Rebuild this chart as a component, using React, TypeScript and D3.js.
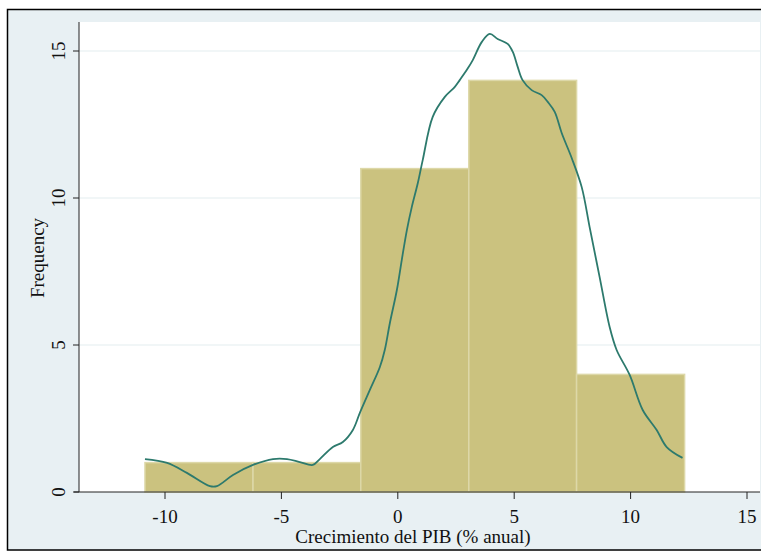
import React, { useEffect, useRef } from 'react';
import * as d3 from 'd3';

// histogram bins (edges) and counts
const binEdges = [-10.86, -6.22, -1.59, 3.05, 7.68, 12.32];
const binCounts = [1, 1, 11, 14, 4];

// kernel density overlay, scaled to frequency
const densityX = [-10.86, -9.91, -9.06, -8.07, -7.77, -7.08, -6.22, -5.36, -4.76, -4.21, -3.65, -3.35, -2.79, -2.36, -1.93, -1.63, -1.2, -0.77, -0.56, -0.34, -0.04, 0.17, 0.39, 0.6, 0.86, 1.07, 1.5, 2.02, 2.45, 2.66, 2.96, 3.22, 3.61, 3.95, 4.29, 4.72, 4.94, 5.15, 5.36, 5.75, 6.18, 6.44, 6.74, 7.04, 7.47, 7.9, 8.24, 8.67, 9.1, 9.4, 9.96, 10.52, 11.12, 11.55, 12.23];
const densityY = [1.12, 0.99, 0.65, 0.2, 0.2, 0.58, 0.92, 1.12, 1.12, 1.02, 0.92, 1.12, 1.53, 1.7, 2.11, 2.69, 3.47, 4.25, 4.83, 5.75, 6.87, 7.89, 8.91, 9.69, 10.51, 11.29, 12.76, 13.44, 13.78, 14.01, 14.35, 14.69, 15.31, 15.58, 15.41, 15.24, 14.97, 14.46, 14.01, 13.67, 13.5, 13.27, 12.93, 12.21, 11.36, 10.37, 9.01, 7.31, 5.61, 4.83, 3.98, 2.79, 2.11, 1.53, 1.16];

const xTicks = [-10, -5, 0, 5, 10, 15];
const yTicks = [0, 5, 10, 15];
const xTitle = 'Crecimiento del PIB (% anual)';
const yTitle = 'Frequency';

const width = 761;
const height = 552;
const plot = { left: 79, right: 760, top: 22, bottom: 492 };
const font = "'Liberation Serif', 'Times New Roman', serif";

const App = () => {
  const svgRef = useRef<SVGSVGElement>(null);

  useEffect(() => {
    document.body.style.margin = '0';
    const svg = d3.select(svgRef.current);
    svg.selectAll('*').remove();

    // outer frame
    svg.append('rect')
      .attr('x', 7.5).attr('y', 9.5)
      .attr('width', 760).attr('height', 540.5)
      .attr('fill', '#e8f0f3')
      .attr('stroke', '#000')
      .attr('stroke-width', 1.5);

    // plot region
    svg.append('rect')
      .attr('x', plot.left).attr('y', plot.top)
      .attr('width', plot.right - plot.left).attr('height', plot.bottom - plot.top)
      .attr('fill', '#fff');

    const xScale = d3.scaleLinear().domain([-10, 15]).range([165, 747]);
    const yScale = d3.scaleLinear().domain([0, 15]).range([plot.bottom, 51]);

    // grid lines
    svg.append('g').selectAll('line')
      .data(yTicks.filter(t => t > 0))
      .join('line')
      .attr('x1', plot.left).attr('x2', plot.right)
      .attr('y1', d => yScale(d)).attr('y2', d => yScale(d))
      .attr('stroke', '#e4edf0')
      .attr('stroke-width', 1.2);

    // bars
    svg.append('g').selectAll('rect')
      .data(binCounts)
      .join('rect')
      .attr('x', (d, i) => xScale(binEdges[i]))
      .attr('y', d => yScale(d))
      .attr('width', (d, i) => xScale(binEdges[i + 1]) - xScale(binEdges[i]))
      .attr('height', d => yScale(0) - yScale(d))
      .attr('fill', '#cbc27f')
      .attr('stroke', '#ddd8a8')
      .attr('stroke-width', 1.5);

    // density line
    const pts = densityX.map((x, i) => [x, densityY[i]] as [number, number]);
    const line = d3.line<[number, number]>()
      .x(d => xScale(d[0]))
      .y(d => yScale(d[1]))
      .curve(d3.curveCatmullRom.alpha(0.5));
    svg.append('path')
      .attr('d', line(pts))
      .attr('fill', 'none')
      .attr('stroke', '#2d7a6d')
      .attr('stroke-width', 1.8);

    // axes
    const axisColor = '#222';
    svg.append('line')
      .attr('x1', plot.left).attr('x2', plot.left)
      .attr('y1', plot.top).attr('y2', plot.bottom)
      .attr('stroke', axisColor).attr('stroke-width', 1);
    svg.append('line')
      .attr('x1', plot.left - 5).attr('x2', plot.right)
      .attr('y1', plot.bottom).attr('y2', plot.bottom)
      .attr('stroke', axisColor).attr('stroke-width', 1);

    const textStyle = (sel: any) => sel
      .attr('font-family', font)
      .attr('font-size', 19)
      .attr('fill', '#111');

    // y ticks
    const yt = svg.append('g');
    yt.selectAll('line')
      .data(yTicks)
      .join('line')
      .attr('x1', plot.left - 6).attr('x2', plot.left)
      .attr('y1', d => yScale(d)).attr('y2', d => yScale(d))
      .attr('stroke', axisColor);
    yt.selectAll('text')
      .data(yTicks)
      .join('text')
      .attr('transform', d => `translate(65,${yScale(d)}) rotate(-90)`)
      .attr('text-anchor', 'middle')
      .call(textStyle)
      .text(d => d);

    // x ticks
    const xt = svg.append('g');
    xt.selectAll('line')
      .data(xTicks)
      .join('line')
      .attr('x1', d => xScale(d)).attr('x2', d => xScale(d))
      .attr('y1', plot.bottom).attr('y2', plot.bottom + 7)
      .attr('stroke', axisColor);
    xt.selectAll('text')
      .data(xTicks)
      .join('text')
      .attr('x', d => xScale(d))
      .attr('y', 523)
      .attr('text-anchor', 'middle')
      .call(textStyle)
      .text(d => d);

    // titles
    svg.append('text')
      .attr('x', 413).attr('y', 543)
      .attr('text-anchor', 'middle')
      .call(textStyle)
      .text(xTitle);
    svg.append('text')
      .attr('transform', `translate(44,${(plot.top + plot.bottom) / 2 + 1}) rotate(-90)`)
      .attr('text-anchor', 'middle')
      .call(textStyle)
      .text(yTitle);
  }, []);

  return <svg ref={svgRef} width={width} height={height} style={{ display: 'block' }} />;
};

export default App;
